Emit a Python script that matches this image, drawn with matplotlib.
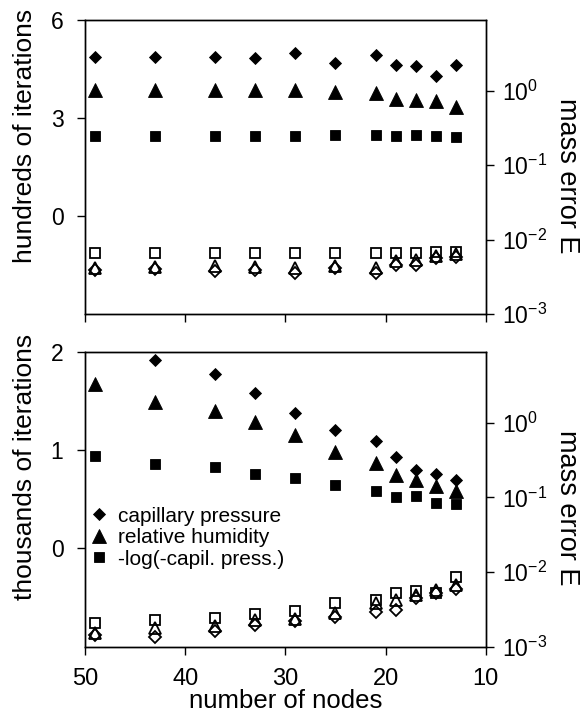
import matplotlib

matplotlib.use("Agg")
import matplotlib.pyplot as plt  # noqa: E402
from matplotlib.ticker import FixedLocator, NullLocator  # noqa: E402

plt.rcParams.update({
    "font.family": ["Liberation Sans", "DejaVu Sans"],
    "mathtext.default": "regular",
    "axes.unicode_minus": False,
})

# number of nodes (shared x)
nodes = [49, 43, 37, 33, 29, 25, 21, 19, 17, 15, 13]

# top panel: hundreds of iterations (filled markers, left axis)
top_it_cap = [4.88, 4.88, 4.88, 4.83, 4.99, 4.68, 4.93, 4.63, 4.58, 4.29, 4.61]
top_it_rh = [3.85, 3.85, 3.85, 3.85, 3.85, 3.81, 3.77, 3.58, 3.56, 3.51, 3.34]
top_it_log = [2.46, 2.46, 2.46, 2.46, 2.46, 2.48, 2.49, 2.46, 2.47, 2.46, 2.42]
# top panel: mass error E (open markers, right log axis)
top_err_cap = [3.9e-3, 4.0e-3, 3.8e-3, 3.9e-3, 3.6e-3, 4.2e-3, 3.6e-3, 4.5e-3, 4.6e-3, 5.7e-3, 5.9e-3]
top_err_rh = [4.2e-3, 4.3e-3, 4.4e-3, 4.3e-3, 4.2e-3, 4.4e-3, 4.2e-3, 5.1e-3, 5.4e-3, 6.1e-3, 6.4e-3]
top_err_log = [6.6e-3, 6.6e-3, 6.6e-3, 6.6e-3, 6.6e-3, 6.6e-3, 6.6e-3, 6.6e-3, 6.6e-3, 6.8e-3, 6.8e-3]

# bottom panel: thousands of iterations
bot_it_cap = [2.2, 1.92, 1.77, 1.58, 1.38, 1.20, 1.09, 0.93, 0.80, 0.76, 0.70]
bot_it_rh = [1.67, 1.49, 1.40, 1.29, 1.15, 0.98, 0.87, 0.75, 0.70, 0.63, 0.58]
bot_it_log = [0.94, 0.855, 0.83, 0.756, 0.72, 0.64, 0.585, 0.52, 0.53, 0.465, 0.45]
# bottom panel: mass error E
bot_err_cap = [1.45e-3, 1.37e-3, 1.6e-3, 1.97e-3, 2.18e-3, 2.5e-3, 2.88e-3, 3.13e-3, 4.5e-3, 5.2e-3, 5.9e-3]
bot_err_rh = [1.52e-3, 1.78e-3, 1.91e-3, 2.25e-3, 2.35e-3, 2.8e-3, 3.85e-3, 4.17e-3, 5.0e-3, 5.8e-3, 6.76e-3]
bot_err_log = [2.07e-3, 2.25e-3, 2.42e-3, 2.76e-3, 2.97e-3, 3.8e-3, 4.26e-3, 5.24e-3, 5.5e-3, 5.2e-3, 8.6e-3]

labels = ["capillary pressure", "relative humidity", "-log(-capil. press.)"]

MK = {"cap": ("D", 6.3), "rh": ("^", 9.8), "log": ("s", 7.2)}
TICK_FS = 16.5


def panel(ax, it, err, ylim, yticks, ylabel, ylab_y):
    ax2 = ax.twinx()
    lines = []
    for key, vals, lab in zip(("cap", "rh", "log"), it, labels):
        m, ms = MK[key]
        (ln,) = ax.plot(nodes, vals, ls="none", marker=m, ms=ms, color="black",
                        mec="black", mew=0.6, label=lab)
        lines.append(ln)
    for key, vals in zip(("log", "cap", "rh"), (err[2], err[0], err[1])):
        m, ms = MK[key]
        ax2.plot(nodes, vals, ls="none", marker=m, ms=ms * 0.95, mfc="none", mec="black", mew=1.3)

    ax.set_xlim(50, 10)
    ax.set_ylim(*ylim)
    ax.set_yticks(yticks)
    ax.set_xticks([50, 40, 30, 20, 10])
    ax.tick_params(direction="out", length=5.5, width=1, labelsize=TICK_FS, pad=10)
    ax.tick_params(axis="x", length=6, pad=9, labelsize=17)
    ax.set_ylabel(ylabel, fontsize=19)
    ax.yaxis.set_label_coords(-0.12, ylab_y)

    ax2.set_yscale("log")
    ax2.set_ylim(1e-3, 10 ** 0.95)
    ax2.yaxis.set_major_locator(FixedLocator([1e-3, 1e-2, 1e-1, 1e0]))
    ax2.yaxis.set_minor_locator(NullLocator())
    ax2.tick_params(direction="out", length=5.5, width=1, labelsize=TICK_FS, pad=6)
    ax2.set_ylabel("mass error E", fontsize=19.5, rotation=-90, va="bottom")
    ax2.yaxis.set_label_coords(1.17, 0.47)
    for a in (ax, ax2):
        for sp in a.spines.values():
            sp.set_linewidth(1.0)
    return lines


fig = plt.figure(figsize=(5.84, 7.15), dpi=100)
fig.patch.set_facecolor("white")
ax_top = fig.add_axes([0.1455, 0.5608, 0.6862, 0.4112])
ax_bot = fig.add_axes([0.1455, 0.0955, 0.6862, 0.4126])

panel(ax_top, (top_it_cap, top_it_rh, top_it_log), (top_err_cap, top_err_rh, top_err_log),
      (-3, 6), [0, 3, 6], "hundreds of iterations", 0.605)
ax_top.tick_params(axis="x", labelbottom=False)

handles = panel(ax_bot, (bot_it_cap, bot_it_rh, bot_it_log), (bot_err_cap, bot_err_rh, bot_err_log),
                (-1, 2), [0, 1, 2], "thousands of iterations", 0.61)
ax_bot.set_xlabel("number of nodes", fontsize=18.5)
ax_bot.xaxis.set_label_coords(0.5, -0.145)

leg = ax_bot.legend(handles=handles, loc="upper left", bbox_to_anchor=(0.01, 0.475),
                    frameon=False, fontsize=15, handlelength=1.0, handletextpad=0.4,
                    labelspacing=0.12, borderpad=0, borderaxespad=0)
leg.set_zorder(5)

fig.savefig("out.png", dpi=100, facecolor="white")
